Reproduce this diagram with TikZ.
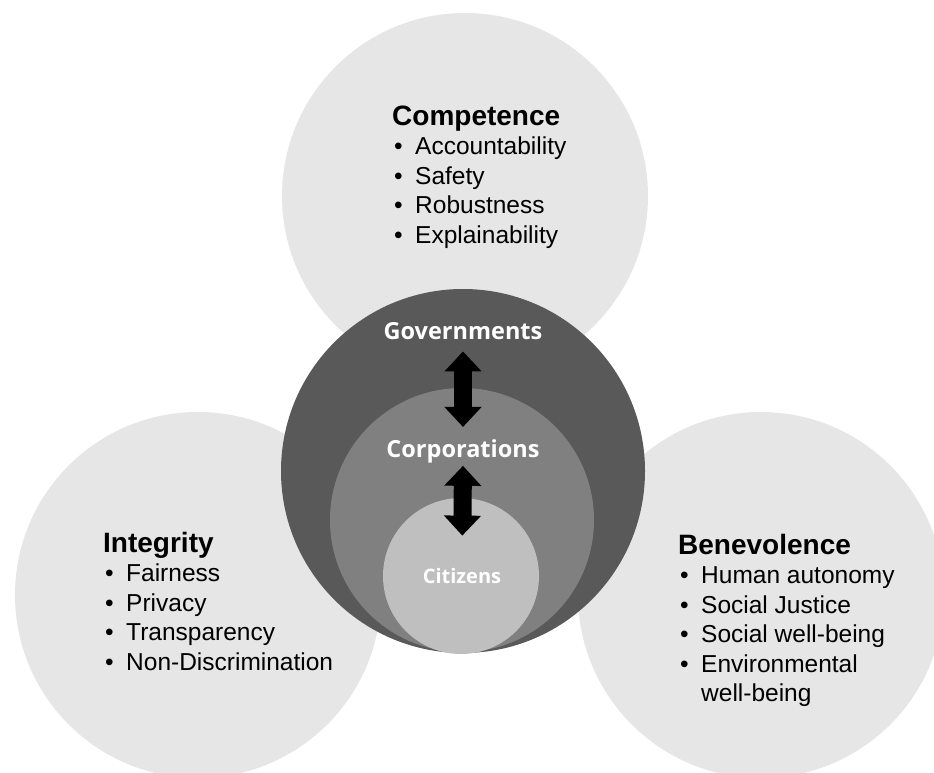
\documentclass[tikz,border=0pt]{standalone}
\usepackage{fontspec}
\setmainfont{Liberation Sans}
\newfontfamily\labelfont{Open Sans}
\usepackage{tikz}
\usetikzlibrary{arrows.meta, positioning}

\definecolor{pillar}{HTML}{E6E6E6}
\definecolor{govfill}{HTML}{595959}
\definecolor{corpfill}{HTML}{808080}
\definecolor{citfill}{HTML}{BFBFBF}

\newcommand{\bul}{\makebox[23bp][l]{\hspace{2bp}\textbullet}}
\newcommand{\heading}[1]{{\fontsize{28bp}{29.5bp}\selectfont\bfseries #1}}

\begin{document}
\begin{tikzpicture}[
    x=1bp, y=-1bp,
    disc/.style={circle, inner sep=0pt, minimum size=#1},
    pillarbox/.style={anchor=base west, inner sep=0pt, font=\fontsize{24.5bp}{29.5bp}\selectfont},
    ring/.style={text=white, inner sep=0pt, font=\labelfont\bfseries\fontsize{23.5bp}{27bp}\selectfont},
    link/.style={line width=18bp, {Triangle[width=36bp,length=20bp]}-{Triangle[width=36bp,length=20bp]}}
]
    \useasboundingbox (0,0) rectangle (934,773);
    \clip (0,0) rectangle (934,773);

    % the three pillars
    \node[disc=366bp, fill=pillar] (competence) at (465,196) {};
    \node[disc=366bp, fill=pillar] (integrity) at (198,595) {};
    \node[disc=366bp, fill=pillar] (benevolence) at (761,595) {};

    % nested actors
    \node[disc=364bp, fill=govfill] (gov) at (463,471) {};
    \node[disc=264bp, fill=corpfill] (corp) at (462,520) {};
    \node[disc=156bp, fill=citfill] (cit) at (461,576) {};

    \node[ring, anchor=base] (govlabel) at (463,339) {Governments};
    \node[ring, anchor=base] (corplabel) at (463,457) {Corporations};
    \node[ring, anchor=base, font=\labelfont\bfseries\fontsize{20bp}{24bp}\selectfont] (citlabel) at (462,583) {Citizens};

    \draw[link, shorten <=12bp, shorten >=12bp] (govlabel.south) -- (corplabel.north);
    \draw[link, shorten <=3bp, shorten >=32bp] (corplabel.south) -- (citlabel.north);

    % pillar texts
    \node[pillarbox] (comptext) at (392,125) {\begin{tabular}[t]{@{}l@{}}
        \heading{Competence}\\
        \bul Accountability\\
        \bul Safety\\
        \bul Robustness\\
        \bul Explainability
    \end{tabular}};
    \node[pillarbox] (integtext) at (103,552) {\begin{tabular}[t]{@{}l@{}}
        \heading{Integrity}\\
        \bul Fairness\\
        \bul Privacy\\
        \bul Transparency\\
        \bul Non-Discrimination
    \end{tabular}};
    \node[pillarbox] (benevtext) at (678,554) {\begin{tabular}[t]{@{}l@{}}
        \heading{Benevolence}\\
        \bul Human autonomy\\
        \bul Social Justice\\
        \bul Social well-being\\
        \bul Environmental\\
        \hspace*{23bp}well-being
    \end{tabular}};
\end{tikzpicture}
\end{document}
